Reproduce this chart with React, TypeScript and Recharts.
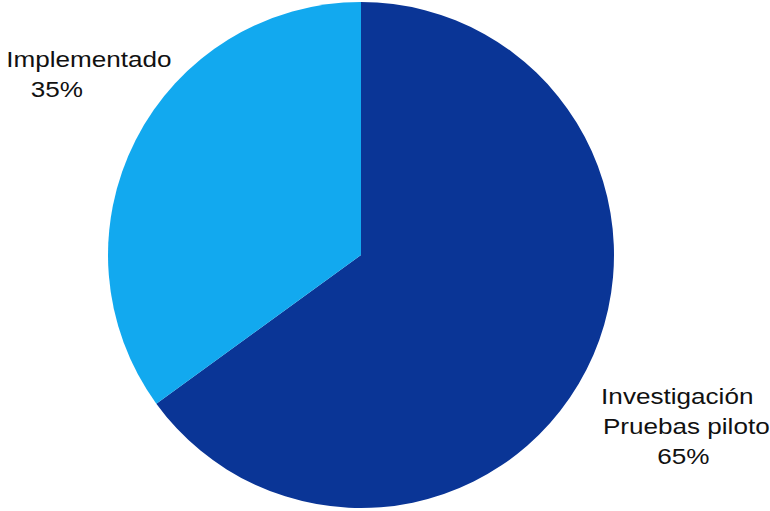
import React from 'react';
import { PieChart, Pie, Cell } from 'recharts';

const categories = ['Investigación Pruebas piloto', 'Implementado'];
const values = [65, 35];
const labelLines = [
  ['Investigación', 'Pruebas piloto', '65%'],
  ['Implementado', '35%'],
];
const colors = ['#0a3596', '#12a9ef'];

const data = categories.map((name, i) => ({ name, value: values[i], lines: labelLines[i] }));

// label layout: distance from centre, angle shift, per-line x shift
const labelLayout = [
  { dist: 365, shift: -1, lineDx: [-6, 3, 0] },
  { dist: 327, shift: -6.7, lineDx: [0, -32] },
];

const RAD = Math.PI / 180;

const renderLabel = (props: any) => {
  const { cx, cy, midAngle, index } = props;
  const lay = labelLayout[index];
  const a = (midAngle + lay.shift) * RAD;
  const ax = cx + lay.dist * Math.cos(-a);
  const ay = cy + lay.dist * Math.sin(-a);
  const lines: string[] = data[index].lines;
  const n = lines.length;
  return (
    <g key={`lbl-${index}`}>
      {lines.map((t, i) => {
        const bx = ax + (lay.lineDx[i] || 0);
        const by = ay - (n - 1) * 15 + i * 30 + 8;
        return (
          <g key={i} transform={`translate(${bx},${by}) scale(1.16,1)`}>
            <text
              x={0}
              y={0}
              textAnchor="middle"
              fill="#111"
              fontSize={22.5}
              fontFamily="'Liberation Sans', Arial, sans-serif"
            >
              {t}
            </text>
          </g>
        );
      })}
    </g>
  );
};

export default function App() {
  return (
    <div style={{ position: 'absolute', left: 0, top: 0, width: 770, height: 511, background: '#fff' }}>
      <PieChart width={770} height={511} margin={{ top: 0, right: 0, bottom: 0, left: 0 }}>
        <Pie
          data={data}
          dataKey="value"
          nameKey="name"
          cx={361}
          cy={255}
          outerRadius={253}
          startAngle={90}
          endAngle={-270}
          stroke="none"
          labelLine={false}
          label={renderLabel}
          isAnimationActive={false}
        >
          {data.map((d, i) => (
            <Cell key={d.name} fill={colors[i]} />
          ))}
        </Pie>
      </PieChart>
    </div>
  );
}
